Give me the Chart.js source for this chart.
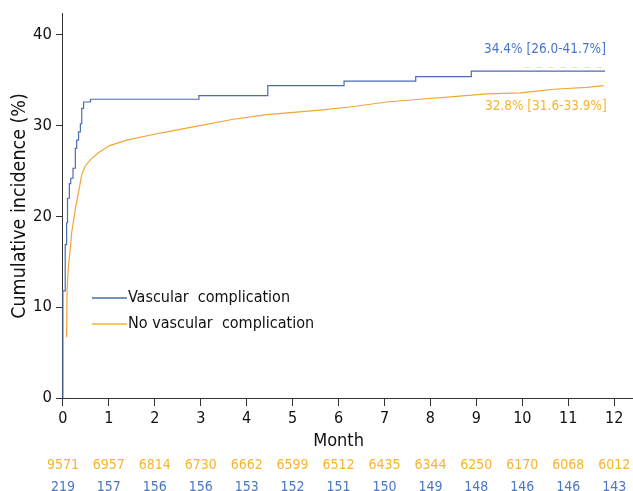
<!DOCTYPE html>
<html>
<head>
<meta charset="utf-8">
<script src="https://cdn.jsdelivr.net/npm/chart.js@4.4.1/dist/chart.umd.min.js"></script>
<style>
  html, body { margin: 0; padding: 0; background: #fff; }
  #wrap { width: 633px; height: 491px; }
</style>
</head>
<body>
<div id="wrap"><canvas id="c" width="633" height="491"></canvas></div>
<script>
// Cumulative incidence (%) by month
const vascMonths = [0, 0.05, 0.08, 0.10, 0.14, 0.17, 0.22, 0.27, 0.30, 0.34, 0.38, 0.41, 0.45, 0.60, 2.96, 4.46, 6.12, 7.68, 8.89, 11.29, 11.80];
const vascValues = [0, 11.8, 16.9, 19.3, 22.0, 23.6, 24.2, 25.3, 27.5, 28.4, 29.3, 30.2, 31.9, 32.6, 32.9, 33.3, 34.4, 34.9, 35.4, 36.0, 36.0];

const noVascMonths = [0.08, 0.09, 0.12, 0.17, 0.19, 0.24, 0.28, 0.33, 0.37, 0.41, 0.48, 0.59, 0.77, 1.02, 1.39, 2.04, 2.26, 2.98, 3.71, 4.44, 5.60, 6.33, 7.05, 7.78, 8.50, 9.23, 9.95, 10.32, 10.68, 11.41, 11.77];
const noVascValues = [6.7, 11.8, 14.5, 16.9, 18.2, 19.8, 21.1, 22.4, 23.5, 24.6, 25.5, 26.2, 27.0, 27.8, 28.4, 29.1, 29.3, 30.0, 30.7, 31.2, 31.7, 32.1, 32.6, 32.9, 33.2, 33.5, 33.6, 33.8, 34.0, 34.2, 34.4];

// faint dashed edge near the upper right
const edgeMonths = [10.05, 11.85];
const edgeValues = [36.4, 36.4];

const monthTicks = [0, 1, 2, 3, 4, 5, 6, 7, 8, 9, 10, 11, 12];
const incidenceTicks = [0, 10, 20, 30, 40];

// Number at risk at each month
const atRiskNoVasc = [9571, 6957, 6814, 6730, 6662, 6599, 6512, 6435, 6344, 6250, 6170, 6068, 6012];
const atRiskVasc = [219, 157, 156, 156, 153, 152, 151, 150, 149, 148, 146, 146, 143];

const seriesNames = ['Vascular  complication', 'No vascular  complication'];
const vascLabel = '34.4% [26.0-41.7%]';
const noVascLabel = '32.8% [31.6-33.9%]';

const BLUE = '#4a6cb3';
const ORANGE = '#f3a536';
const BLUE_TEXT = '#4a76c6';
const ORANGE_TEXT = '#f5b52e';
const FONT = "'DejaVu Sans Condensed', 'DejaVu Sans', Verdana, sans-serif";

const toXY = (xs, ys) => xs.map((x, i) => ({ x: x, y: ys[i] }));

const extras = {
  id: 'extras',
  afterDraw(chart) {
    const ctx = chart.ctx;
    const xs = chart.scales.x, ys = chart.scales.y;
    ctx.save();
    // axis title
    ctx.fillStyle = '#111';
    ctx.font = '18px ' + FONT;
    ctx.textAlign = 'center';
    ctx.textBaseline = 'middle';
    ctx.fillText('Month', xs.getPixelForValue(6), 441);
    // number at risk
    ctx.font = '14px ' + FONT;
    monthTicks.forEach((m, i) => {
      const px = xs.getPixelForValue(m);
      ctx.fillStyle = ORANGE_TEXT;
      ctx.fillText(String(atRiskNoVasc[i]), px, 465);
      ctx.fillStyle = BLUE_TEXT;
      ctx.fillText(String(atRiskVasc[i]), px, 487);
    });
    // estimates at 12 months
    ctx.font = '13.5px ' + FONT;
    ctx.textAlign = 'right';
    ctx.fillStyle = BLUE_TEXT;
    ctx.fillText(vascLabel, xs.getPixelForValue(11.82), ys.getPixelForValue(38.4));
    ctx.fillStyle = ORANGE_TEXT;
    ctx.fillText(noVascLabel, xs.getPixelForValue(11.84), ys.getPixelForValue(32.1));
    // legend
    ctx.font = '16px ' + FONT;
    ctx.textAlign = 'left';
    const items = [[BLUE, seriesNames[0], 298], [ORANGE_TEXT, seriesNames[1], 324]];
    items.forEach(([col, txt, y]) => {
      ctx.strokeStyle = col;
      ctx.lineWidth = 1.5;
      ctx.beginPath();
      ctx.moveTo(92, y);
      ctx.lineTo(127, y);
      ctx.stroke();
      ctx.fillStyle = '#111';
      ctx.fillText(txt, 128, y);
    });
    ctx.restore();
  }
};

new Chart(document.getElementById('c'), {
  type: 'line',
  data: {
    datasets: [
      {
        label: seriesNames[0],
        data: toXY(vascMonths, vascValues),
        borderColor: BLUE,
        borderWidth: 1.2,
        stepped: 'after',
        pointRadius: 0,
        fill: false
      },
      {
        label: seriesNames[1],
        data: toXY(noVascMonths, noVascValues),
        borderColor: ORANGE,
        borderWidth: 1.2,
        pointRadius: 0,
        tension: 0,
        fill: false
      },
      {
        label: 'edge',
        data: toXY(edgeMonths, edgeValues),
        borderColor: 'rgba(243,165,54,0.45)',
        borderWidth: 1,
        borderDash: [5, 7],
        pointRadius: 0,
        fill: false
      }
    ]
  },
  options: {
    responsive: false,
    animation: false,
    layout: { padding: { top: 11, right: 0, left: 8, bottom: 0 } },
    plugins: { legend: { display: false }, tooltip: { enabled: false } },
    scales: {
      x: {
        type: 'linear',
        min: -0.02,
        max: 12.41,
        afterBuildTicks: (s) => { s.ticks = monthTicks.map(v => ({ value: v })); },
        afterFit: (s) => { s.height = 93; },
        ticks: { color: '#111', font: { family: FONT, size: 16 }, padding: 3, maxRotation: 0 },
        grid: { drawOnChartArea: false, drawTicks: true, tickLength: 8, color: '#333' },
        border: { display: true, color: '#333', width: 1 }
      },
      y: {
        min: 0,
        max: 42.3,
        afterBuildTicks: (s) => { s.ticks = incidenceTicks.map(v => ({ value: v })); },
        afterFit: (s) => { s.width = 54; },
        ticks: { color: '#111', font: { family: FONT, size: 16.5 }, padding: 4 },
        grid: { drawOnChartArea: false, drawTicks: true, tickLength: 6, color: '#333' },
        border: { display: true, color: '#333', width: 1 },
        title: { display: true, text: 'Cumulative incidence (%)', color: '#111', font: { family: FONT, size: 19.5 }, padding: 0 }
      }
    }
  },
  plugins: [extras]
});
</script>
</body>
</html>
